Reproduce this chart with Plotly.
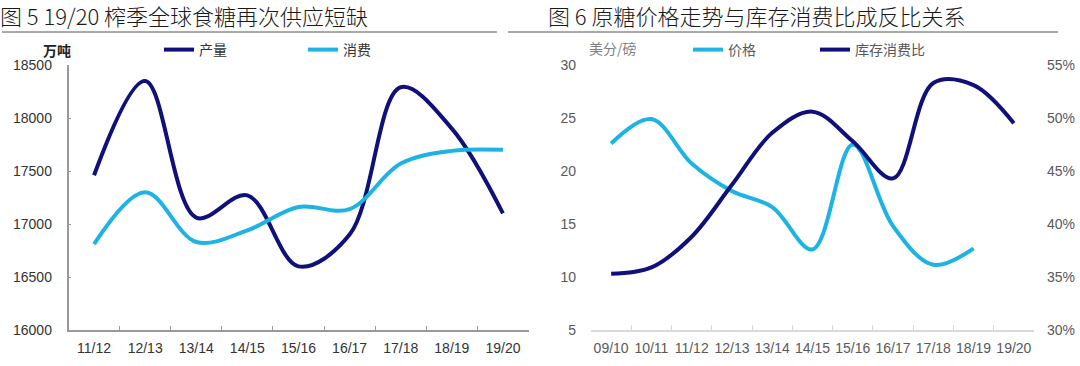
import plotly.graph_objects as go

# ---------------- data ----------------
seasons_left = ["11/12", "12/13", "13/14", "14/15", "15/16", "16/17", "17/18", "18/19", "19/20"]
production = [17460, 18350, 17060, 17270, 16600, 16900, 18290, 17900, 17100]
consumption = [16810, 17300, 16830, 16940, 17160, 17140, 17570, 17690, 17700]

seasons_right = ["09/10", "10/11", "11/12", "12/13", "13/14", "14/15", "15/16", "16/17", "17/18", "18/19", "19/20"]
price = [22.6, 24.9, 20.7, 18.1, 16.6, 12.6, 22.5, 14.8, 11.15, 12.7, None]
stock_ratio = [0.353, 0.359, 0.388, 0.437, 0.486, 0.506, 0.478, 0.443, 0.533, 0.531, 0.495]

title_left = "图 5 19/20 榨季全球食糖再次供应短缺"
title_right = "图 6 原糖价格走势与库存消费比成反比关系"

DARK = "#10107a"
LIGHT = "#1db4e4"
W, H = 1080, 366

def px_x(v):
    return v / W

def px_y(v):
    return 1 - v / H

FONT = "Liberation Sans, Arial, Noto Sans CJK SC, sans-serif"
CJK = "Noto Sans CJK SC, sans-serif"

fig = go.Figure()

fig.add_trace(go.Scatter(x=seasons_left, y=production, name="产量", mode="lines",
                         line=dict(color=DARK, width=4, shape="spline", smoothing=1),
                         xaxis="x", yaxis="y", legend="legend", showlegend=True))
fig.add_trace(go.Scatter(x=seasons_left, y=consumption, name="消费", mode="lines",
                         line=dict(color=LIGHT, width=4, shape="spline", smoothing=1),
                         xaxis="x", yaxis="y", legend="legend2", showlegend=True))
fig.add_trace(go.Scatter(x=seasons_right, y=price, name="价格", mode="lines",
                         line=dict(color=LIGHT, width=4, shape="spline", smoothing=1),
                         xaxis="x2", yaxis="y2", legend="legend3", showlegend=True))
fig.add_trace(go.Scatter(x=seasons_right, y=stock_ratio, name="库存消费比", mode="lines",
                         line=dict(color=DARK, width=4, shape="spline", smoothing=1),
                         xaxis="x2", yaxis="y3", legend="legend4", showlegend=True))

ydom = [px_y(330), px_y(65)]

fig.update_layout(
    width=W, height=H,
    margin=dict(l=0, r=0, t=0, b=0, autoexpand=False),
    showlegend=True,
    paper_bgcolor="white", plot_bgcolor="white",
    font=dict(family=FONT, size=14, color="#333333"),
    xaxis=dict(domain=[px_x(68.5), px_x(528.5)], type="category", range=[-0.5, 8.5],
               showline=True, linecolor="#999999", linewidth=1.5,
               ticks="inside", ticklen=4, tickcolor="#999999", tickson="boundaries",
               showgrid=False, zeroline=False, anchor="y", tickangle=0, automargin=False,
               tickfont=dict(family=FONT, size=14, color="#333333"), ticklabelstandoff=4),
    yaxis=dict(domain=ydom, range=[16000, 18500], dtick=500, tickformat="d",
               showline=True, linecolor="#999999", linewidth=1.5,
               ticks="inside", ticklen=3, tickcolor="#999999",
               showgrid=False, zeroline=False, anchor="x", automargin=False,
               tickfont=dict(family=FONT, size=14, color="#333333"), ticklabelstandoff=12),
    xaxis2=dict(domain=[px_x(591), px_x(1034)], type="category", range=[-0.5, 10.5],
                showline=True, linecolor="#d9d9d9", linewidth=1.5,
                ticks="inside", ticklen=5, tickcolor="#d9d9d9", tickson="boundaries",
                showgrid=False, zeroline=False, anchor="y2", tickangle=0, automargin=False,
                tickfont=dict(family=FONT, size=14, color="#595959"), ticklabelstandoff=4),
    yaxis2=dict(domain=ydom, range=[5, 30], dtick=5,
                showline=False, ticks="", showgrid=False, zeroline=False, anchor="x2",
                automargin=False,
                tickfont=dict(family=FONT, size=14, color="#595959"), ticklabelstandoff=14),
    yaxis3=dict(range=[0.30, 0.55], dtick=0.05, tickformat=".0%",
                overlaying="y2", side="right", anchor="x2", automargin=False,
                showline=False, ticks="", showgrid=False, zeroline=False,
                tickfont=dict(family=FONT, size=14, color="#595959"), ticklabelstandoff=12),
)

def legend_at(xpx, color):
    return dict(x=px_x(xpx), y=px_y(50), xanchor="left", yanchor="middle",
                orientation="h", bgcolor="rgba(0,0,0,0)", borderwidth=0,
                font=dict(family=CJK, size=14, color=color), itemwidth=30,
                tracegroupgap=0, visible=True)

fig.update_layout(
    legend=legend_at(159, "#333333"),
    legend2=legend_at(303, "#333333"),
    legend3=legend_at(688, "#595959"),
    legend4=legend_at(815, "#595959"),
)

# titles
fig.add_annotation(text=title_left, x=px_x(-2), y=px_y(15), xref="paper", yref="paper",
                   xanchor="left", yanchor="middle", showarrow=False,
                   font=dict(family=CJK, size=22, color="#1a1a1a", weight=300))
fig.add_annotation(text=title_right, x=px_x(546), y=px_y(15), xref="paper", yref="paper",
                   xanchor="left", yanchor="middle", showarrow=False,
                   font=dict(family=CJK, size=22, color="#1a1a1a", weight=300))
# unit labels
fig.add_annotation(text="<b>万吨</b>", x=px_x(57), y=px_y(50), xref="paper", yref="paper",
                   xanchor="center", yanchor="middle", showarrow=False,
                   font=dict(family=CJK, size=14, color="#222222"))
fig.add_annotation(text="美分/磅", x=px_x(613), y=px_y(48), xref="paper", yref="paper",
                   xanchor="center", yanchor="middle", showarrow=False,
                   font=dict(family=CJK, size=14, color="#7f7f7f"))

# separator rules under titles
fig.add_shape(type="line", xref="paper", yref="paper", x0=px_x(2), x1=px_x(497),
              y0=px_y(32), y1=px_y(32), line=dict(color="#555555", width=1))
fig.add_shape(type="line", xref="paper", yref="paper", x0=px_x(508), x1=px_x(1058),
              y0=px_y(32), y1=px_y(32), line=dict(color="#555555", width=1))

fig.write_html("out.html", config={"displayModeBar": False},
               post_script="document.body.style.margin='0';document.body.style.padding='0';")
